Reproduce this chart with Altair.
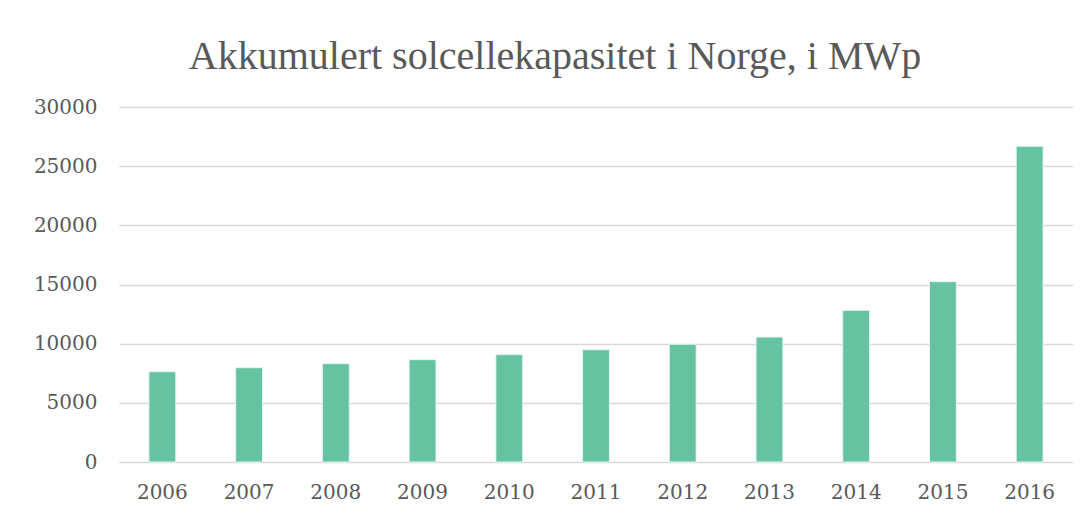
import altair as alt
import pandas as pd

years = ["2006", "2007", "2008", "2009", "2010", "2011", "2012", "2013", "2014", "2015", "2016"]
values = [7630, 7970, 8310, 8650, 9070, 9490, 9950, 10560, 12820, 15240, 26680]

df = pd.DataFrame({"year": years, "value": values})

FONT = "DejaVu Serif"
TFONT = "Liberation Serif"
TXT = "#595959"

chart = alt.Chart(df).mark_bar(color="#65C3A1", stroke="#E6F5EF", strokeWidth=1).encode(
    x=alt.X("year:N", sort=years, title=None,
            scale=alt.Scale(paddingInner=0.69, paddingOuter=0.345),
            axis=alt.Axis(labelAngle=0, domain=False, ticks=False, labelPadding=20,
                          labelFontSize=20, labelColor=TXT, labelFont=FONT, grid=False)),
    y=alt.Y("value:Q", title=None,
            scale=alt.Scale(domain=[0, 30000], nice=False),
            axis=alt.Axis(values=[0, 5000, 10000, 15000, 20000, 25000, 30000], format="d",
                          domain=False, ticks=False, labelPadding=22, labelFontSize=20,
                          labelColor=TXT, labelFont=FONT, gridColor="#D9D9D9", gridWidth=1.5)),
).properties(
    width=954, height=355,
    title=alt.TitleParams("Akkumulert solcellekapasitet i Norge, i MWp", font=TFONT, fontSize=40,
                          fontWeight="normal", color=TXT, anchor="middle", dx=-41, offset=20),
    autosize=alt.AutoSizeParams(type="none"),
    padding={"left": 111, "top": 99, "right": 8, "bottom": 40},
).configure_view(stroke=None)

chart.save("out.html", embed_options={"renderer": "svg", "actions": False})
